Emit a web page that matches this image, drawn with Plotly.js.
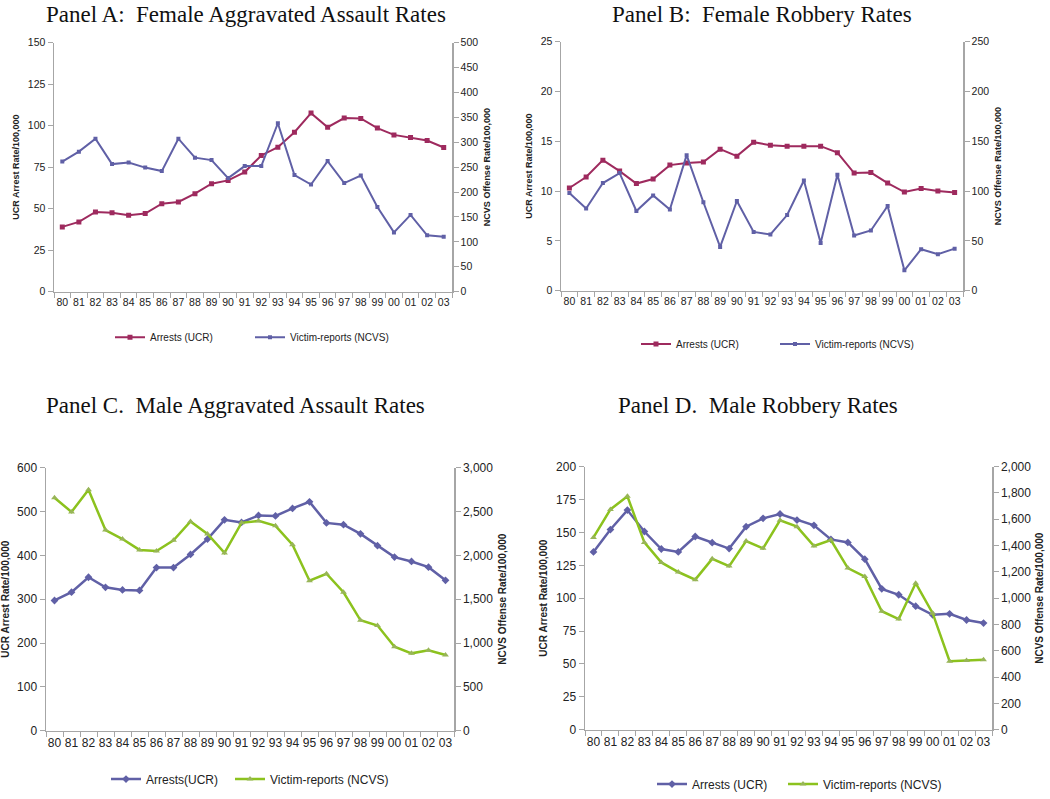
<!DOCTYPE html>
<html>
<head>
<meta charset="utf-8">
<script src="https://cdn.plot.ly/plotly-3.0.1.min.js"></script>
<style>
  body { margin: 0; background: #fff; }
  #chart { width: 1050px; height: 799px; }
</style>
</head>
<body>
<div id="chart"></div>
<script>
// years shown as two-digit labels
const years = ['80','81','82','83','84','85','86','87','88','89','90','91',
               '92','93','94','95','96','97','98','99','00','01','02','03'];

// Panel A: female aggravated assault
const femAssaultArrests = [39,42,48,47.5,46,47,53,54,59,65,67,72,82,87,96,107.5,99,104.5,104.3,98.5,94.4,92.8,91,86.8];
const femAssaultVictim  = [261,281,307,256,259,249,242,307,269,264,228,252,252,338,234,215,262,218,233,170,119,154,113,110];

// Panel B: female robbery
const femRobArrests = [10.3,11.4,13.1,12.0,10.75,11.2,12.6,12.8,12.9,14.2,13.5,14.9,14.6,14.5,14.5,14.5,13.85,11.8,11.85,10.8,9.9,10.25,10.0,9.85];
const femRobVictim  = [98,82.5,108,118,80,95.6,81.5,136,88.7,43.9,90,59,56.4,75.9,110.5,47.8,116.4,55.4,60.4,85,20.4,41.6,36.6,42.2];

// Panel C: male aggravated assault
const maleAssaultArrests = [297,316,350,327,321,320,372,372,402,437,481,475,491,490,507,522,474,470,449,422,396,386,373,343];
const maleAssaultVictim  = [2657,2495,2748,2288,2186,2062,2050,2171,2386,2243,2028,2371,2393,2337,2122,1711,1790,1579,1259,1199,957,882,916,863];

// Panel D: male robbery
const maleRobArrests = [135.2,152.2,167,150.7,137.4,135.2,146.9,142.2,137.7,154.4,160.7,164,159.4,155.4,144.7,142.4,129.7,107.1,102.6,93.9,87.4,88.1,83.4,81.1];
const maleRobVictim  = [1462,1675,1775,1424,1272,1199,1141,1299,1244,1434,1379,1592,1544,1397,1442,1229,1164,901,841,1114,886,521,526,531];

const W = 1050, H = 799;
const RED = '#9E2A5E', BLUE = '#6060A6', GREEN = '#8CC21E', GREEN_MK = '#98B558';
const FONT = 'Liberation Sans, Arial, sans-serif';

const px = (a, b) => [a / W, b / W];
const py = (top, bottom) => [1 - bottom / H, 1 - top / H];

function mk(x, y, xa, ya, name, color, symbol, size, mcol, lw, legend) {
  return {
    x: x, y: y, xaxis: xa, yaxis: ya, name: name, type: 'scatter', mode: 'lines+markers',
    line: {color: color, width: lw},
    marker: {color: mcol || color, symbol: symbol, size: size},
    legend: legend, showlegend: true, hoverinfo: 'x+y'
  };
}

// one legend per series so each entry sits where the reference puts it
const traces = [
  mk(years, femAssaultArrests, 'x', 'y', 'Arrests (UCR)', RED, 'square', 5, null, 2, 'legend'),
  mk(years, femAssaultVictim, 'x', 'y2', 'Victim-reports (NCVS)', BLUE, 'square', 4, null, 2, 'legend2'),
  mk(years, femRobArrests, 'x2', 'y3', 'Arrests (UCR)', RED, 'square', 5, null, 2, 'legend3'),
  mk(years, femRobVictim, 'x2', 'y4', 'Victim-reports (NCVS)', BLUE, 'square', 4, null, 2, 'legend4'),
  mk(years, maleAssaultArrests, 'x3', 'y5', 'Arrests(UCR)', BLUE, 'diamond', 6, null, 2.5, 'legend5'),
  mk(years, maleAssaultVictim, 'x3', 'y6', 'Victim-reports (NCVS)', GREEN, 'triangle-up', 6, GREEN_MK, 2.5, 'legend6'),
  mk(years, maleRobArrests, 'x4', 'y7', 'Arrests (UCR)', BLUE, 'diamond', 6, null, 2.5, 'legend7'),
  mk(years, maleRobVictim, 'x4', 'y8', 'Victim-reports (NCVS)', GREEN, 'triangle-up', 6, GREEN_MK, 2.5, 'legend8')
];

function xax(dom, anchor, fs) {
  return {
    domain: dom, anchor: anchor, type: 'category', range: [-0.5, 23.5],
    showline: true, linecolor: '#A6A6A6', linewidth: 1.5,
    ticks: 'outside', tickson: 'boundaries', ticklen: 5, tickcolor: '#A6A6A6',
    tickangle: 0, automargin: false,
    showgrid: false, zeroline: false, fixedrange: true,
    tickfont: {family: FONT, size: fs, color: '#222'}
  };
}
function yax(dom, anchor, range, dtick, side, title, fs, tfs, fmt) {
  return {
    domain: dom, anchor: anchor, range: range, dtick: dtick, tick0: 0,
    showline: true, linecolor: '#A6A6A6', linewidth: 1.5,
    ticks: 'outside', ticklen: 5, tickcolor: '#A6A6A6',
    showgrid: false, zeroline: false, fixedrange: true, side: side,
    tickfont: {family: FONT, size: fs, color: '#222'},
    tickformat: fmt || '',
    title: {text: '<b>' + title + '</b>', font: {family: FONT, size: tfs, color: '#222'}, standoff: 6}
  };
}

const domA = [px(54, 452), py(43, 295)];
const domB = [px(561, 963), py(42, 294)];
const domC = [px(46, 454), py(473, 739)];
const domD = [px(585, 992), py(472, 738)];

const leftT = 'UCR Arrest Rate/100,000';
const rightT = 'NCVS Offense Rate/100,000';

// x = where the legend text should start, in px
function leg(x, y, fs) {
  return {orientation: 'h', x: (x - 40) / W, y: 1 - y / H, xanchor: 'left', yanchor: 'middle',
          font: {family: FONT, size: fs, color: '#222'}, itemwidth: 30,
          bgcolor: 'rgba(0,0,0,0)'};
}

const layout = {
  width: W, height: H,
  margin: {l: 0, r: 0, t: 0, b: 0},
  showlegend: true,
  paper_bgcolor: '#fff', plot_bgcolor: '#fff',
  font: {family: FONT},
  xaxis: xax(domA[0], 'y', 10.5),
  yaxis: yax(domA[1], 'x', [0, 150], 25, 'left', leftT, 10.5, 9),
  yaxis2: Object.assign(yax(domA[1], 'x', [0, 500], 50, 'right', rightT, 10.5, 9), {overlaying: 'y'}),
  xaxis2: xax(domB[0], 'y3', 10.5),
  yaxis3: yax(domB[1], 'x2', [0, 25], 5, 'left', leftT, 10.5, 9),
  yaxis4: Object.assign(yax(domB[1], 'x2', [0, 250], 50, 'right', rightT, 10.5, 9), {overlaying: 'y3'}),
  xaxis3: xax(domC[0], 'y5', 12),
  yaxis5: yax(domC[1], 'x3', [0, 600], 100, 'left', leftT, 12, 10),
  yaxis6: Object.assign(yax(domC[1], 'x3', [0, 3000], 500, 'right', rightT, 12, 10, ',d'), {overlaying: 'y5'}),
  xaxis4: xax(domD[0], 'y7', 12),
  yaxis7: yax(domD[1], 'x4', [0, 200], 25, 'left', leftT, 12, 10),
  yaxis8: Object.assign(yax(domD[1], 'x4', [0, 2000], 200, 'right', rightT, 12, 10, ',d'), {overlaying: 'y7'}),
  legend:  leg(150, 341, 10),
  legend2: leg(290, 341, 10),
  legend3: leg(676, 348, 10),
  legend4: leg(815, 348, 10),
  legend5: leg(146, 788, 12),
  legend6: leg(270, 788, 12),
  legend7: leg(692, 793, 12),
  legend8: leg(823, 793, 12),
  annotations: [
    {text: 'Panel A:  Female Aggravated Assault Rates', x: 44 / W, y: 1 - 15 / H},
    {text: 'Panel B:  Female Robbery Rates', x: 610 / W, y: 1 - 15 / H},
    {text: 'Panel C.  Male Aggravated Assault Rates', x: 44 / W, y: 1 - 410 / H},
    {text: 'Panel D.  Male Robbery Rates', x: 616 / W, y: 1 - 410 / H}
  ].map(a => Object.assign(a, {
    xref: 'paper', yref: 'paper', xanchor: 'left', yanchor: 'middle', showarrow: false,
    font: {family: 'Liberation Serif, Times New Roman, serif', size: 23, color: '#111'}
  }))
};

Plotly.newPlot('chart', traces, layout, {displayModeBar: false, staticPlot: true});
</script>
</body>
</html>
